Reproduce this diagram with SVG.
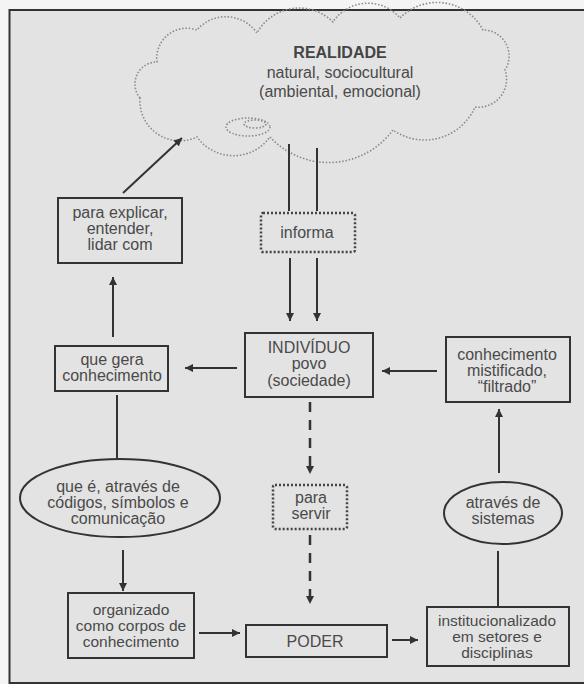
<svg xmlns="http://www.w3.org/2000/svg" width="584" height="684" viewBox="0 0 584 684">
<defs>
<style>
.t{font-family:"Liberation Sans",Arial,sans-serif;font-size:16px;fill:#4a4a4a;text-anchor:middle}
.s{font-size:15.5px}
.b{font-weight:bold;fill:#444}
.box{fill:none;stroke:#333;stroke-width:2}
.dot{fill:none;stroke:#444;stroke-width:2.5;stroke-dasharray:2 2}
.ln{fill:none;stroke:#333;stroke-width:2}
.dash{fill:none;stroke:#333;stroke-width:2.5;stroke-dasharray:10 8}
.cl{fill:none;stroke:#8a8a8a;stroke-width:1.6;stroke-dasharray:1.5 1.8}
</style>
<marker id="ah" markerUnits="userSpaceOnUse" markerWidth="9" markerHeight="8" refX="8" refY="4" orient="auto">
<path d="M0,0 L8,4 L0,8 z" fill="#333"/>
</marker>
</defs>
<rect x="0" y="0" width="584" height="684" fill="#f4f4f4"/>
<rect x="9.5" y="10" width="575" height="673" fill="#e3e3e3"/>
<path d="M584,10 H9.5 V683 H584" fill="none" stroke="#333" stroke-width="2"/>

<g id="realidade">
<path class="cl" d="M140,98 A22,22 0 0 1 157,62 A30,30 0 0 1 197,30 A38,38 0 0 1 257,33 A48,48 0 0 1 333,22 A42,42 0 0 1 400,18 A52,52 0 0 1 483,30 A26,26 0 0 1 505,70 A28,28 0 0 1 475,107 A55,55 0 0 1 393,130 A80,80 0 0 1 270,137 A45,45 0 0 1 197,137 A40,40 0 0 1 140,98 Z"/>
<ellipse class="cl" cx="248" cy="127" rx="22" ry="9"/>
<ellipse class="cl" cx="255" cy="124" rx="11" ry="4"/>
<text class="t b" x="340" y="58">REALIDADE</text>
<text class="t" x="340" y="78">natural, sociocultural</text>
<text class="t" x="340" y="97">(ambiental, emocional)</text>
</g>

<g id="informa">
<rect class="dot" x="261" y="213" width="94" height="39" rx="2"/>
<text class="t" x="307" y="238">informa</text>
</g>

<g id="explicar">
<rect class="box" x="58" y="198" width="124" height="65"/>
<text class="t" x="120" y="218">para explicar,</text>
<text class="t" x="120" y="234">entender,</text>
<text class="t" x="120" y="250">lidar com</text>
</g>

<g id="gera">
<rect class="box" x="55" y="346" width="113" height="45"/>
<text class="t" x="112" y="365">que gera</text>
<text class="t" x="112" y="381">conhecimento</text>
</g>

<g id="individuo">
<rect class="box" x="245" y="333" width="128" height="64"/>
<text class="t" x="309" y="353">INDIVÍDUO</text>
<text class="t" x="309" y="369">povo</text>
<text class="t" x="309" y="386">(sociedade)</text>
</g>

<g id="mistificado">
<rect class="box" x="446" y="337" width="124" height="65"/>
<text class="t" x="507" y="360">conhecimento</text>
<text class="t" x="507" y="376">mistificado,</text>
<text class="t" x="507" y="392">“filtrado”</text>
</g>

<g id="codigos">
<ellipse class="box" cx="120" cy="498" rx="100" ry="39"/>
<text class="t" x="118" y="492">que é, através de</text>
<text class="t" x="118" y="508">códigos, símbolos e</text>
<text class="t" x="118" y="524">comunicação</text>
</g>

<g id="servir">
<rect class="dot" x="273" y="485" width="74" height="44" rx="2"/>
<text class="t" x="311" y="503">para</text>
<text class="t" x="311" y="519">servir</text>
</g>

<g id="sistemas">
<ellipse class="box" cx="503" cy="513" rx="59" ry="31"/>
<text class="t" x="503" y="508">através de</text>
<text class="t" x="503" y="524">sistemas</text>
</g>

<g id="organizado">
<rect class="box" x="68" y="593" width="126" height="65"/>
<text class="t s" x="131" y="615">organizado</text>
<text class="t s" x="131" y="631">como corpos de</text>
<text class="t s" x="131" y="647">conhecimento</text>
</g>

<g id="poder">
<rect class="box" x="246" y="625" width="141" height="32"/>
<text class="t" x="315" y="647">PODER</text>
</g>

<g id="institucionalizado">
<rect class="box" x="427" y="607" width="142" height="59"/>
<text class="t s" x="497" y="626">institucionalizado</text>
<text class="t s" x="497" y="642">em setores e</text>
<text class="t s" x="497" y="658">disciplinas</text>
</g>

<g id="connectors">
<line class="ln" x1="289" y1="144" x2="289" y2="211"/>
<line class="ln" x1="317" y1="148" x2="317" y2="211"/>
<line class="ln" x1="290" y1="258" x2="290" y2="321" marker-end="url(#ah)"/>
<line class="ln" x1="317" y1="258" x2="317" y2="321" marker-end="url(#ah)"/>
<line class="ln" x1="237" y1="368" x2="185" y2="368" marker-end="url(#ah)"/>
<line class="ln" x1="113" y1="337" x2="113" y2="277" marker-end="url(#ah)"/>
<line class="ln" x1="123" y1="193" x2="182" y2="138" marker-end="url(#ah)"/>
<line class="ln" x1="117" y1="395" x2="117" y2="458"/>
<line class="ln" x1="123" y1="550" x2="123" y2="591" marker-end="url(#ah)"/>
<line class="ln" x1="199" y1="633" x2="240" y2="633" marker-end="url(#ah)"/>
<line class="dash" x1="310" y1="402" x2="310" y2="474" marker-end="url(#ah)"/>
<line class="dash" x1="310" y1="535" x2="310" y2="604" marker-end="url(#ah)"/>
<line class="ln" x1="392" y1="640" x2="418" y2="640" marker-end="url(#ah)"/>
<line class="ln" x1="498" y1="607" x2="498" y2="551"/>
<line class="ln" x1="499" y1="473" x2="499" y2="409" marker-end="url(#ah)"/>
<line class="ln" x1="437" y1="371" x2="382" y2="371" marker-end="url(#ah)"/>
</g>
</svg>
